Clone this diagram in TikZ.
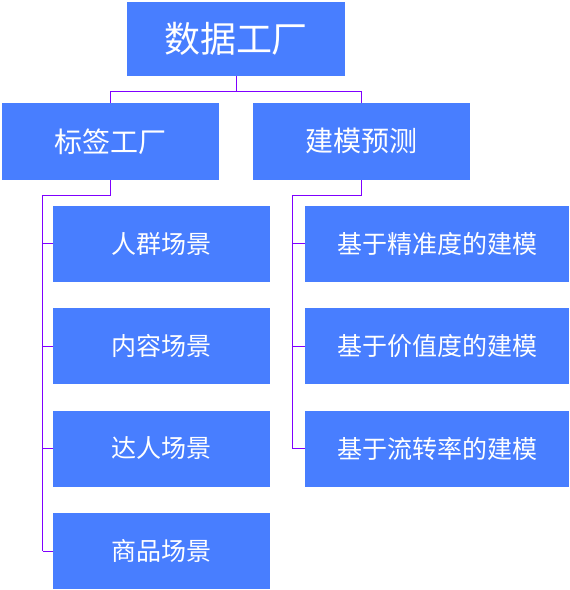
\documentclass[tikz,border=0pt]{standalone}
\usepackage{fontspec}
\setmainfont{Noto Sans CJK SC}
\definecolor{boxblue}{HTML}{487EFF}
\definecolor{linkpurple}{HTML}{7F00FF}
\tikzset{
  box/.style={fill=boxblue, text=white, inner sep=0pt, align=center},
  topbox/.style={box, minimum width=218pt, minimum height=74pt, font=\fontsize{36}{40}\selectfont},
  midbox/.style={box, minimum width=217pt, minimum height=77pt, font=\fontsize{28}{32}\selectfont},
  leafbox/.style={box, minimum height=76pt, font=\fontsize{25}{29}\selectfont},
  link/.style={draw=linkpurple, line width=1pt}
}
\begin{document}
\begin{tikzpicture}[x=1pt, y=-1pt]
\useasboundingbox (0,0) rectangle (570,590);

\node[topbox] (data) at (236,39) {数据工厂};
\node[midbox] (tag) at (110.5,141.3) {标签工厂};
\node[midbox] (model) at (361.3,141.3) {建模预测};

\node[leafbox, minimum width=217pt] (crowd) at (161.5,243.5) {人群场景};
\node[leafbox, minimum width=217pt] (content) at (161.5,346) {内容场景};
\node[leafbox, minimum width=217pt] (expert) at (161.5,448.5) {达人场景};
\node[leafbox, minimum width=217pt] (goods) at (161.5,551) {商品场景};

\node[leafbox, minimum width=264pt] (precise) at (437,243.5) {基于精准度的建模};
\node[leafbox, minimum width=264pt] (value) at (437,346) {基于价值度的建模};
\node[leafbox, minimum width=264pt] (flow) at (437,448.5) {基于流转率的建模};

% top level
\coordinate (datajoin) at (236,91.3);
\draw[link] (data) -- (datajoin);
\draw[link] (datajoin) -| (tag.north);
\draw[link] (datajoin) -| (model.north);

% tag factory
\coordinate (tagbus) at (42.5,195);
\draw[link] (tag.south) |- (tagbus) -- (tagbus |- goods.west);
\foreach \leaf in {crowd, content, expert, goods}
  \draw[link] (tagbus |- \leaf.west) -- (\leaf.west);

% modelling
\coordinate (modelbus) at (292.5,195);
\draw[link] (model.south) |- (modelbus) -- (modelbus |- flow.west);
\foreach \leaf in {precise, value, flow}
  \draw[link] (modelbus |- \leaf.west) -- (\leaf.west);
\end{tikzpicture}
\end{document}
